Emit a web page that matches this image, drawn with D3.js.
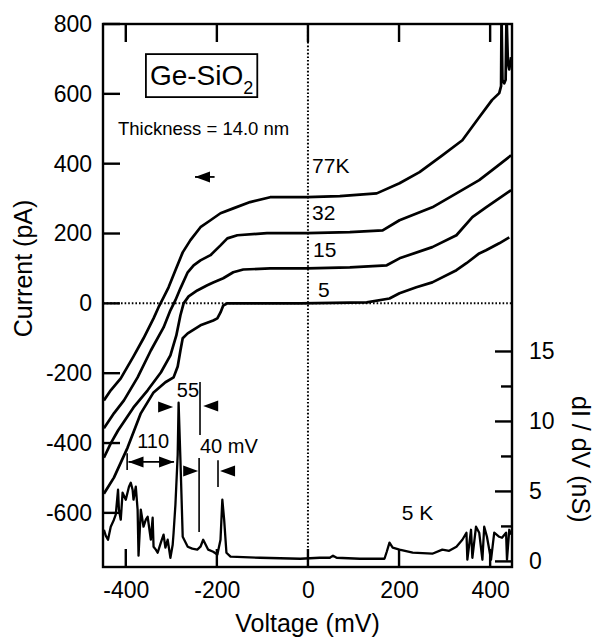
<!DOCTYPE html>
<html><head><meta charset="utf-8">
<script src="https://cdn.jsdelivr.net/npm/d3@7"></script>
<style>
body{margin:0;background:#fff;}
text{font-family:"Liberation Sans", Arial, Helvetica, sans-serif;fill:#000;}
</style></head><body>
<svg id="c" width="600" height="637"></svg>
<script>
// ---- data ----
const leftTicks = [-600,-400,-200,0,200,400,600,800];
const xTicks = [-400,-200,0,200,400];
const rightMajor = [0,5,10,15];
const rightMinor = [2.5,7.5,12.5];

// I-V curves [mV, pA] (as displayed, with offsets)
const curve77K = [[-448,-278],[-433,-249],[-411,-215],[-383,-152],[-361,-100],[-339,-43],[-328,-11],[-317,17],[-306,46],[-291,95],[-275,146],[-258,181],[-236,218],[-214,238],[-192,258],[-164,272],[-127,290],[-83,304],[-2,304],[70,307],[151,315],[201,344],[245,376],[295,424],[339,467],[376,533],[404,582],[420,602],[424,622],[425,830],[427,640],[431,630],[434,640],[436,830],[439,690],[442,670],[446,705]];
const curve32K = [[-448,-358],[-426,-315],[-404,-278],[-374,-212],[-345,-135],[-317,-69],[-302,-20],[-291,9],[-280,43],[-264,89],[-251,109],[-236,123],[-214,138],[-192,166],[-177,186],[-155,195],[-90,201],[-2,201],[92,204],[164,209],[201,238],[273,275],[326,315],[376,353],[413,390],[446,424]];
const curve15K = [[-448,-442],[-433,-401],[-417,-364],[-383,-298],[-352,-249],[-323,-198],[-302,-149],[-289,-92],[-280,-34],[-273,0],[-262,20],[-243,37],[-221,52],[-208,60],[-186,72],[-164,89],[-142,97],[-83,100],[-2,100],[92,103],[173,109],[201,129],[273,161],[326,195],[361,247],[391,275],[446,324]];
const curve5K = [[-448,-545],[-426,-499],[-396,-413],[-367,-315],[-339,-255],[-313,-226],[-295,-212],[-286,-181],[-280,-135],[-275,-100],[-264,-86],[-236,-63],[-208,-49],[-199,-43],[-192,-26],[-186,-6],[-177,0],[-17,0],[129,3],[179,14],[201,29],[238,46],[273,60],[326,95],[348,115],[376,143],[391,152],[420,172],[442,189]];
// dI/dV at 5 K [mV, nS]
const didv5K = [[-448,2.26],[-444,1.84],[-439,1.55],[-433,2.48],[-426,2.98],[-422,3.34],[-417,5.12],[-415,3.69],[-411,2.98],[-407,4.91],[-400,4.41],[-393,5.34],[-389,5.62],[-385,5.12],[-383,4.41],[-378,5.34],[-374,3.69],[-372,0.41],[-367,3.69],[-361,2.48],[-356,2.98],[-352,3.19],[-345,1.55],[-341,3.12],[-339,1.05],[-334,0.84],[-330,0.62],[-323,1.34],[-317,1.91],[-313,0.98],[-308,1.55],[-302,0.26],[-297,1.19],[-295,2.05],[-291,4.05],[-286,7.62],[-284,11.34],[-280,7.26],[-275,1.76],[-264,1.05],[-254,0.91],[-243,0.84],[-236,1.05],[-230,1.55],[-219,0.84],[-208,0.69],[-199,0.48],[-192,1.55],[-188,4.41],[-184,2.98],[-179,0.62],[-170,0.34],[-105,0.26],[-17,0.19],[26,0.26],[48,0.26],[55,0.41],[63,0.26],[114,0.19],[168,0.19],[173,0.69],[179,1.34],[186,0.98],[201,0.84],[230,0.62],[273,0.55],[295,0.84],[310,0.76],[326,1.05],[339,1.55],[348,2.05],[350,0.12],[358,2.26],[361,0.26],[369,2.48],[376,2.05],[383,0.12],[387,2.48],[393,1.76],[402,0.12],[409,2.05],[420,1.76],[426,1.69],[435,2.05],[437,0.12],[442,2.26],[446,1.91]];

// curve labels [mV, pA]
const curveLabels = [{t:"77K",v:9,i:373},{t:"32",v:9,i:239},{t:"15",v:11,i:133},{t:"5",v:22,i:18},{t:"5 K",v:206,i:-620}];
const gapLabels = [{t:"55",v:-288,i:-268},{t:"110",v:-375,i:-414},{t:"40 mV",v:-237,i:-428}];
// annotation geometry in data units
const vLines = [{v:-237,i1:-225,i2:-377},{v:-397,i1:-429,i2:-477},{v:-239,i1:-443,i2:-655},{v:-197.5,i1:-449,i2:-526}];
const arrowHeads = [{v:-296,i:-297,dir:1},{v:-230,i:-294,dir:-1},{v:-241,i:-480,dir:1},{v:-193,i:-480,dir:-1},{v:-394,i:-454,dir:-1},{v:-294,i:-454,dir:1},{v:-248,i:362,dir:-1}];
const hLines = [{v1:-394,v2:-294,i:-454},{v1:-248,v2:-205,i:362}];

// ---- layout ----
const m = {l:103, r:512, t:24, b:567};
const x = d3.scaleLinear().domain([-450,448]).range([m.l,m.r]);
const yL = d3.scaleLinear().domain([-755,800]).range([m.b,m.t]);
const yR = d3.scaleLinear().domain([-0.4,38.4]).range([m.b,m.t]);
const svg = d3.select('#c');

svg.append('defs').append('clipPath').attr('id','clip')
  .append('rect').attr('x',m.l).attr('y',m.t).attr('width',m.r-m.l).attr('height',m.b-m.t);

function styleAxis(g, fs){
  g.select('.domain').remove();
  g.selectAll('.tick line').remove();
  g.selectAll('.tick text').attr('font-size',fs).attr('fill','#000')
   .attr('font-family','"Liberation Sans", Arial, sans-serif');
}
const fmt = d => String(d);
svg.append('g').attr('transform',`translate(${m.l},0)`)
  .call(d3.axisLeft(yL).tickValues(leftTicks).tickSize(0).tickPadding(11).tickFormat(fmt))
  .call(g=>styleAxis(g,23));
svg.append('g').attr('transform',`translate(0,${m.b})`)
  .call(d3.axisBottom(x).tickValues(xTicks).tickSize(0).tickPadding(15).tickFormat(fmt))
  .call(g=>styleAxis(g,23));
svg.append('g').attr('transform',`translate(${m.r},0)`)
  .call(d3.axisRight(yR).tickValues(rightMajor).tickSize(0).tickPadding(17).tickFormat(fmt))
  .call(g=>styleAxis(g,23));

// inward tick marks
const tk = svg.append('g').attr('stroke','#000').attr('stroke-width',2.4);
tk.selectAll('line.l').data(leftTicks).join('line').attr('class','l')
  .attr('x1',m.l).attr('x2',m.l+17).attr('y1',d=>yL(d)).attr('y2',d=>yL(d));
tk.selectAll('line.t').data(xTicks).join('line').attr('class','t')
  .attr('x1',d=>x(d)).attr('x2',d=>x(d)).attr('y1',m.t).attr('y2',m.t+18);
tk.selectAll('line.b').data(xTicks).join('line').attr('class','b')
  .attr('x1',d=>x(d)).attr('x2',d=>x(d)).attr('y1',m.b).attr('y2',m.b-18);
tk.selectAll('line.rM').data(rightMajor).join('line').attr('class','rM')
  .attr('x1',m.r).attr('x2',m.r-17).attr('y1',d=>yR(d)).attr('y2',d=>yR(d));
tk.selectAll('line.rm').data(rightMinor).join('line').attr('class','rm')
  .attr('x1',m.r).attr('x2',m.r-11).attr('y1',d=>yR(d)).attr('y2',d=>yR(d));

// dotted zero lines
svg.append('line').attr('x1',m.l).attr('x2',m.r).attr('y1',yL(0)).attr('y2',yL(0))
  .attr('stroke','#000').attr('stroke-width',2).attr('stroke-dasharray','1.6,2');
svg.append('line').attr('x1',x(0)).attr('x2',x(0)).attr('y1',m.t).attr('y2',m.b)
  .attr('stroke','#000').attr('stroke-width',2).attr('stroke-dasharray','1.6,2');

// frame
svg.append('rect').attr('x',m.l).attr('y',m.t).attr('width',m.r-m.l).attr('height',m.b-m.t)
  .attr('fill','none').attr('stroke','#000').attr('stroke-width',2.4);

// curves
const plot = svg.append('g').attr('clip-path','url(#clip)');
const lineL = d3.line().x(d=>x(d[0])).y(d=>yL(d[1]));
const lineR = d3.line().x(d=>x(d[0])).y(d=>yR(d[1]));
[curve77K,curve32K,curve15K,curve5K].forEach(c=>{
  plot.append('path').attr('d',lineL(c)).attr('fill','none').attr('stroke','#000')
    .attr('stroke-width',2.7).attr('stroke-linejoin','round');
});
plot.append('path').attr('d',lineR(didv5K)).attr('fill','none').attr('stroke','#000')
  .attr('stroke-width',2.3).attr('stroke-linejoin','round');

// labels
curveLabels.forEach(d=>svg.append('text').attr('x',x(d.v)).attr('y',yL(d.i)).attr('font-size',21).text(d.t));
gapLabels.forEach(d=>svg.append('text').attr('x',x(d.v)).attr('y',yL(d.i)).attr('font-size',20).text(d.t));

// annotation lines & arrowheads
vLines.forEach(d=>svg.append('line').attr('x1',x(d.v)).attr('x2',x(d.v)).attr('y1',yL(d.i1)).attr('y2',yL(d.i2))
  .attr('stroke','#000').attr('stroke-width',1.6));
hLines.forEach(d=>svg.append('line').attr('x1',x(d.v1)).attr('x2',x(d.v2)).attr('y1',yL(d.i)).attr('y2',yL(d.i))
  .attr('stroke','#000').attr('stroke-width',1.8));
arrowHeads.forEach(d=>{
  const tx=x(d.v), ty=yL(d.i), L=15, h=5.5;
  svg.append('path').attr('d',`M${tx},${ty}L${tx-d.dir*L},${ty-h}L${tx-d.dir*L},${ty+h}Z`).attr('fill','#000');
});

// title box
const tb = svg.append('g');
const tt = tb.append('text').attr('x',x(-347)).attr('y',yL(625)).attr('font-size',28);
tt.append('tspan').text('Ge-SiO');
tt.append('tspan').attr('font-size',18).attr('dy',9).text('2');
const bb = tt.node().getBBox();
tb.insert('rect','text').attr('x',bb.x-4).attr('y',bb.y-6).attr('width',bb.width+8).attr('height',bb.height+5)
  .attr('fill','#fff').attr('stroke','#000').attr('stroke-width',1.8);

svg.append('text').attr('x',x(-417)).attr('y',yL(482)).attr('font-size',18.5).text('Thickness = 14.0 nm');

// axis titles
svg.append('text').attr('x',(m.l+m.r)/2).attr('y',632).attr('text-anchor','middle').attr('font-size',25).text('Voltage (mV)');
svg.append('text').attr('transform',`translate(32,${yL(100)}) rotate(-90)`).attr('text-anchor','middle').attr('font-size',25).text('Current (pA)');
svg.append('text').attr('transform',`translate(572,${yR(7.3)}) rotate(90)`).attr('text-anchor','middle').attr('font-size',25).text('dI / dV (nS)');
</script></body></html>
